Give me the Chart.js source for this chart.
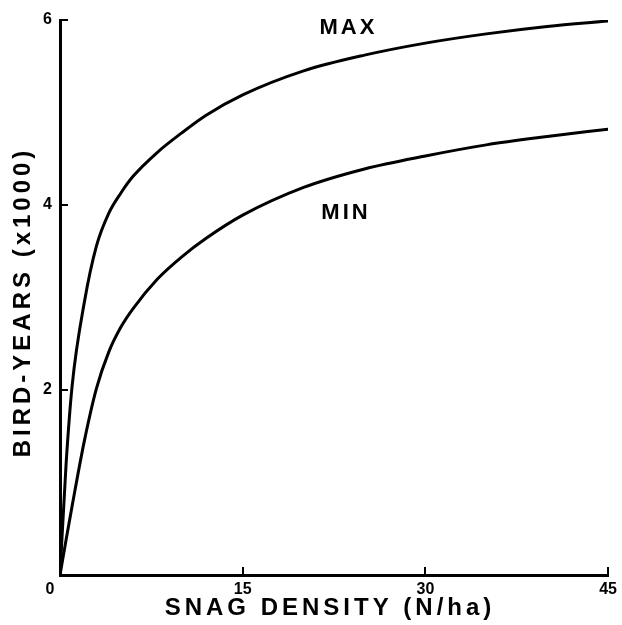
<!DOCTYPE html>
<html>
<head>
<meta charset="utf-8">
<script src="https://cdn.jsdelivr.net/npm/chart.js@4/dist/chart.umd.min.js"></script>
<style>
    html, body { margin: 0; padding: 0; background: #fff; }
    #chart-wrap { width: 622px; height: 625px; }
</style>
</head>
<body>
<div id="chart-wrap"><canvas id="chart"></canvas></div>
<script>
// snag density (N/ha)
const snagDensity = [0, 0.5, 1, 2, 3, 4, 5, 6, 8, 10, 12, 15, 20, 25, 30, 35, 40, 45];
// bird-years (x1000)
const maxValues = [0, 1.2, 2.05, 2.95, 3.56, 3.91, 4.13, 4.31, 4.57, 4.78, 4.97, 5.19, 5.45, 5.62, 5.75, 5.85, 5.93, 5.99];
const minValues = [0, 0.38, 0.75, 1.45, 2.02, 2.41, 2.68, 2.88, 3.2, 3.44, 3.64, 3.89, 4.19, 4.39, 4.53, 4.65, 4.74, 4.82];
const xTicks = [0, 15, 30, 45];
const yTicks = [0, 2, 4, 6];
const curveLabels = [
    { text: 'MAX', x: 23.6, y: 5.91 },
    { text: 'MIN', x: 23.4, y: 3.91 }
];

const FONT = '"Liberation Sans", Arial, Helvetica, sans-serif';

function toPoints(values) {
    return snagDensity.map((x, i) => ({ x: x, y: values[i] }));
}

// marcas hacia dentro, titulos de ejes y etiquetas MAX / MIN
const textosPlugin = {
    id: 'textos',
    afterDraw(chart) {
        const ctx = chart.ctx;
        const xs = chart.scales.x;
        const ys = chart.scales.y;
        const area = chart.chartArea;

        ctx.save();
        ctx.strokeStyle = '#000';
        ctx.lineWidth = 2;
        ctx.beginPath();
        xTicks.filter(v => v !== 0).forEach(v => {
            const px = Math.round(xs.getPixelForValue(v));
            ctx.moveTo(px, area.bottom);
            ctx.lineTo(px, area.bottom - 8);
        });
        yTicks.filter(v => v !== 0).forEach(v => {
            const py = Math.round(ys.getPixelForValue(v));
            ctx.moveTo(area.left, py);
            ctx.lineTo(area.left + 8, py);
        });
        ctx.stroke();
        ctx.restore();

        ctx.save();
        ctx.fillStyle = '#000';
        ctx.textAlign = 'center';
        ctx.textBaseline = 'middle';

        ctx.font = 'bold 22px ' + FONT;
        ctx.letterSpacing = '3px';
        curveLabels.forEach(l => {
            ctx.fillText(l.text, xs.getPixelForValue(l.x) + 1, ys.getPixelForValue(l.y));
        });

        ctx.font = 'bold 24px ' + FONT;
        ctx.letterSpacing = '4px';
        ctx.fillText('SNAG DENSITY (N/ha)', 330, 608);

        ctx.translate(23, 302);
        ctx.rotate(-Math.PI / 2);
        ctx.fillText('BIRD-YEARS (x1000)', 0, 0);
        ctx.restore();

        // origen compartido
        ctx.save();
        ctx.font = 'bold 16px ' + FONT;
        ctx.textAlign = 'center';
        ctx.textBaseline = 'top';
        ctx.fillStyle = '#000';
        ctx.fillText('0', xs.getPixelForValue(0) - 10, ys.getPixelForValue(0) + 7);
        ctx.restore();
    }
};

const dataset = (label, values) => ({
    label: label,
    data: toPoints(values),
    borderColor: '#000',
    borderWidth: 3,
    pointRadius: 0,
    fill: false,
    cubicInterpolationMode: 'monotone'
});

new Chart(document.getElementById('chart'), {
    type: 'line',
    data: {
        datasets: [dataset('MAX', maxValues), dataset('MIN', minValues)]
    },
    options: {
        responsive: true,
        maintainAspectRatio: false,
        animation: false,
        layout: { padding: { top: 20, right: 13, left: 0, bottom: 0 } },
        plugins: { legend: { display: false }, tooltip: { enabled: false } },
        scales: {
            x: {
                type: 'linear',
                min: 0,
                max: 45,
                afterBuildTicks: s => { s.ticks = xTicks.map(v => ({ value: v })); },
                afterFit: s => { s.height = 50; },
                border: { display: true, color: '#000', width: 3 },
                grid: { drawOnChartArea: false, drawTicks: false },
                ticks: {
                    color: '#000',
                    padding: 5,
                    maxRotation: 0,
                    font: { family: FONT, size: 16, weight: 'bold' },
                    callback: v => v === 0 ? '' : String(v)
                }
            },
            y: {
                min: 0,
                max: 6,
                afterBuildTicks: s => { s.ticks = yTicks.map(v => ({ value: v })); },
                afterFit: s => { s.width = 60; },
                border: { display: true, color: '#000', width: 3 },
                grid: { drawOnChartArea: false, drawTicks: false },
                ticks: {
                    color: '#000',
                    padding: 8,
                    font: { family: FONT, size: 16, weight: 'bold' },
                    callback: v => v === 0 ? '' : String(v)
                }
            }
        }
    },
    plugins: [textosPlugin]
});
</script>
</body>
</html>
